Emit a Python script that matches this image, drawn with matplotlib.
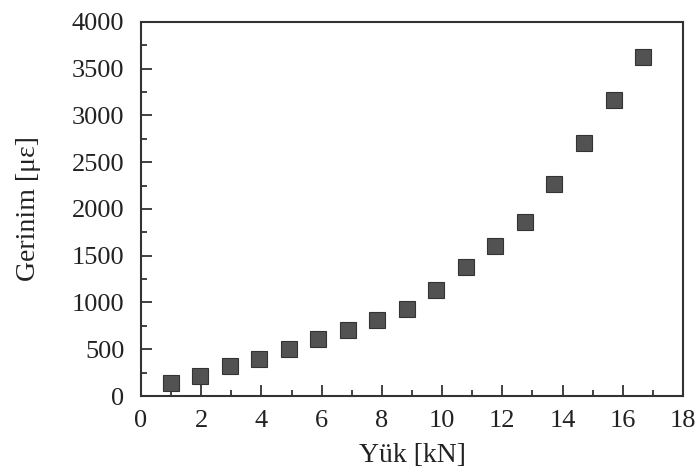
import numpy as np
import matplotlib
matplotlib.use('Agg')
import matplotlib.pyplot as plt
from matplotlib.ticker import MultipleLocator

# load [kN] and strain [micro-epsilon]
yuk = [0.98, 1.96, 2.94, 3.92, 4.91, 5.89, 6.87, 7.85, 8.83, 9.81,
       10.79, 11.77, 12.75, 13.73, 14.72, 15.70, 16.68]
gerinim = [140, 215, 320, 400, 505, 610, 705, 815, 935, 1135,
           1375, 1605, 1860, 2265, 2705, 3165, 3630]

plt.rcParams['font.family'] = ['Liberation Serif', 'DejaVu Serif']

fig = plt.figure(figsize=(6.97, 4.76), dpi=100)
ax = fig.add_axes([0.2023, 0.168, 0.7777, 0.786])

ax.plot(yuk, gerinim, linestyle='none', marker='s', markersize=11,
        markerfacecolor='#525252', markeredgecolor='#333333', markeredgewidth=0.8)

ax.set_xlim(0, 18)
ax.set_ylim(0, 4000)
ax.xaxis.set_major_locator(MultipleLocator(2))
ax.xaxis.set_minor_locator(MultipleLocator(1))
ax.yaxis.set_major_locator(MultipleLocator(500))
ax.yaxis.set_minor_locator(MultipleLocator(250))

ax.tick_params(which='both', direction='in', top=False, right=False,
               colors='#333333', labelcolor='#222222', width=1.3)
ax.tick_params(which='major', length=8, labelsize=19)
ax.tick_params(axis='y', which='major', pad=12)
ax.tick_params(axis='x', which='major', pad=10)
ax.tick_params(which='minor', length=4.5)

for s in ax.spines.values():
    s.set_linewidth(1.5)
    s.set_color('#333333')

ax.set_xlabel('Yük [kN]', fontsize=20, color='#222222', labelpad=8)
ax.set_ylabel('Gerinim [με]', fontsize=20, color='#222222', labelpad=22)

fig.savefig('out.png', dpi=100)
